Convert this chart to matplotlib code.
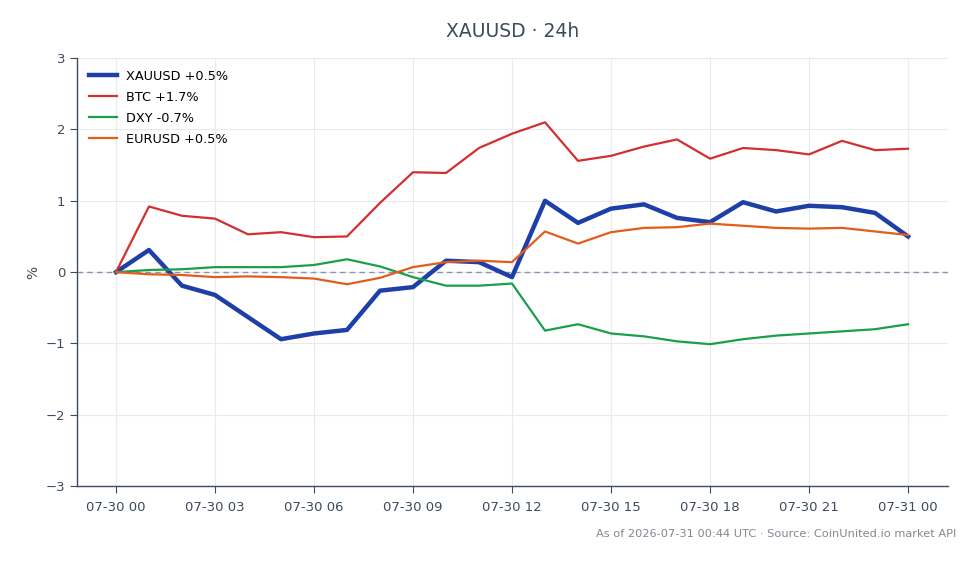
import matplotlib
matplotlib.use("Agg")
import matplotlib.pyplot as plt
import matplotlib.dates as mdates
import pandas as pd

times = pd.date_range("2026-07-30 00:00", "2026-07-31 00:00", freq="h")

xauusd = [0.00, 0.31, -0.19, -0.32, -0.63, -0.94, -0.86, -0.81, -0.26, -0.21, 0.16, 0.14, -0.07,
          1.00, 0.69, 0.89, 0.95, 0.76, 0.70, 0.98, 0.85, 0.93, 0.91, 0.83, 0.50]
btc = [0.00, 0.92, 0.79, 0.75, 0.53, 0.56, 0.49, 0.50, 0.97, 1.40, 1.39, 1.74, 1.94,
       2.10, 1.56, 1.63, 1.76, 1.86, 1.59, 1.74, 1.71, 1.65, 1.84, 1.71, 1.73]
dxy = [0.00, 0.03, 0.04, 0.07, 0.07, 0.07, 0.10, 0.18, 0.08, -0.07, -0.19, -0.19, -0.16,
       -0.82, -0.73, -0.86, -0.90, -0.97, -1.01, -0.94, -0.89, -0.86, -0.83, -0.80, -0.73]
eurusd = [0.00, -0.03, -0.04, -0.07, -0.06, -0.07, -0.09, -0.17, -0.08, 0.07, 0.14, 0.16, 0.14,
          0.57, 0.40, 0.56, 0.62, 0.63, 0.68, 0.65, 0.62, 0.61, 0.62, 0.57, 0.52]

labels = ["XAUUSD +0.5%", "BTC +1.7%", "DXY -0.7%", "EURUSD +0.5%"]
series = [xauusd, btc, dxy, eurusd]
colors = ["#1e3fa8", "#d32f2f", "#18a04a", "#e35d1a"]
widths = [3.2, 1.6, 1.6, 1.6]

title = "XAUUSD · 24h"
footer = "As of 2026-07-31 00:44 UTC · Source: CoinUnited.io market API"

fig = plt.figure(figsize=(9.8, 5.64), dpi=100)
ax = fig.add_axes([0.0786, 0.138, 0.8884, 0.759])

ax.axhline(0, color="#8a94b0", lw=1, ls=(0, (4, 3)), zorder=1)
for s, lab, c, w in zip(series, labels, colors, widths):
    ax.plot(times, s, color=c, lw=w, label=lab, zorder=3)

ax.set_ylim(-3, 3)
ax.set_yticks([-3, -2, -1, 0, 1, 2, 3])
ax.set_yticklabels(["\u22123", "\u22122", "\u22121", "0", "1", "2", "3"])
ax.set_xlim(times[0] - pd.Timedelta(hours=1.18), times[-1] + pd.Timedelta(hours=1.2))
ax.xaxis.set_major_locator(mdates.HourLocator(byhour=[0, 3, 6, 9, 12, 15, 18, 21]))
ax.xaxis.set_major_formatter(mdates.DateFormatter("%m-%d %H"))

ax.grid(True, color="#e8eaf0", lw=0.8)
ax.set_axisbelow(True)
for sp in ["top", "right"]:
    ax.spines[sp].set_visible(False)
for sp in ["left", "bottom"]:
    ax.spines[sp].set_color("#3d4b5c")
    ax.spines[sp].set_linewidth(1.0)
ax.tick_params(colors="#3d4b5c", labelsize=9.5, length=5)
ax.tick_params(axis="x", pad=6)
ax.set_ylabel("%", color="#3d4b5c", fontsize=10)

leg = ax.legend(loc="upper left", frameon=False, fontsize=9.3, handlelength=2.2,
                handletextpad=0.7, borderaxespad=0.5, labelspacing=0.62)

fig.text(0.523, 0.945, title, ha="center", va="center", fontsize=13.5, color="#3d4b5c")
fig.text(0.976, 0.053, footer, ha="right", va="center", fontsize=8.2, color="#808890")

fig.savefig("out.png", dpi=100)
